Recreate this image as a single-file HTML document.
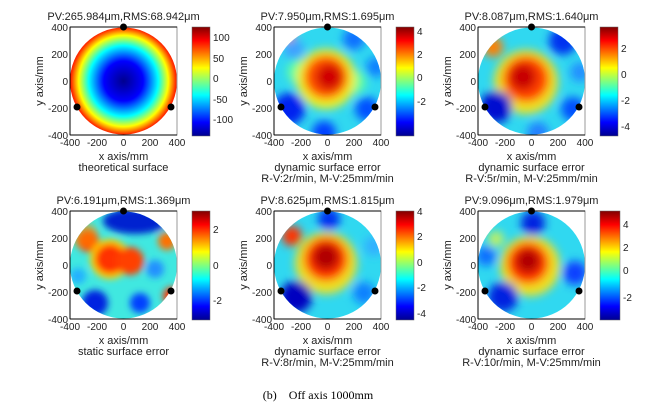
<!DOCTYPE html>
<html><head><meta charset="utf-8"><style>
html,body{margin:0;padding:0;background:#fff;width:670px;height:415px;overflow:hidden}
svg{display:block}
text{font-family:"Liberation Sans",sans-serif;font-size:10px;fill:#222}
.t{font-size:11px}
.c{font-family:"Liberation Serif",serif;font-size:12px;fill:#000}
</style></head><body>
<svg width="670" height="415" viewBox="0 0 670 415">
<defs>
<linearGradient id="jet" x1="0" y1="1" x2="0" y2="0">
<stop offset="0" stop-color="#00008f"/><stop offset="0.125" stop-color="#0000ff"/>
<stop offset="0.375" stop-color="#00ffff"/><stop offset="0.625" stop-color="#ffff00"/>
<stop offset="0.875" stop-color="#ff0000"/><stop offset="1" stop-color="#800000"/>
</linearGradient>
<radialGradient id="bowl" cx="0.5" cy="0.5" r="0.5">
<stop offset="0" stop-color="#00008f"/><stop offset="0.35" stop-color="#0000ff"/>
<stop offset="0.62" stop-color="#00ffff"/><stop offset="0.8" stop-color="#ffff00"/>
<stop offset="0.93" stop-color="#ff3000"/><stop offset="1" stop-color="#ff0000"/>
</radialGradient>
<clipPath id="disk"><circle cx="53.5" cy="54" r="53.5"/></clipPath>
<filter id="bl" x="-50%" y="-50%" width="200%" height="200%"><feGaussianBlur stdDeviation="4.5"/></filter>
<filter id="bl2" x="-50%" y="-50%" width="200%" height="200%"><feGaussianBlur stdDeviation="3.5"/></filter>
<g id="axes">
<rect x="0" y="0" width="107" height="108" fill="none" stroke="#999" stroke-width="1"/>
<line x1="0" y1="0" x2="107" y2="0" stroke="#000"/>
<line x1="0" y1="0" x2="0" y2="108" stroke="#000"/>
<line x1="0" y1="108" x2="107" y2="108" stroke="#000"/>
<text x="-2" y="4" text-anchor="end">400</text>
<text x="-2" y="31" text-anchor="end">200</text>
<text x="-2" y="58" text-anchor="end">0</text>
<text x="-2" y="85" text-anchor="end">-200</text>
<text x="-2" y="112" text-anchor="end">-400</text>
<text x="0" y="119" text-anchor="middle">-400</text>
<text x="27" y="119" text-anchor="middle">-200</text>
<text x="53.5" y="119" text-anchor="middle">0</text>
<text x="80" y="119" text-anchor="middle">200</text>
<text x="107" y="119" text-anchor="middle">400</text>
<text x="53.5" y="133" text-anchor="middle" style="font-size:11px">x axis/mm</text>
<text transform="translate(-27,54) rotate(-90)" text-anchor="middle" style="font-size:11px">y axis/mm</text>
<circle cx="53.5" cy="0" r="3.5" fill="#000"/>
<circle cx="7" cy="80" r="3.5" fill="#000"/>
<circle cx="101" cy="80" r="3.5" fill="#000"/>
</g>
</defs>

<!-- Panel 1 -->
<g transform="translate(70,27)">
<g clip-path="url(#disk)"><ellipse cx="53.5" cy="54" rx="56" ry="57" fill="url(#bowl)"/></g>
<use href="#axes"/>
<text class="t" x="53.5" y="-7" text-anchor="middle">PV:265.984μm,RMS:68.942μm</text>
<text x="53.5" y="144" text-anchor="middle" style="font-size:11px">theoretical surface</text>
<rect x="122" y="0" width="18" height="109" fill="url(#jet)" stroke="#666" stroke-width="0.5"/>
<text x="143" y="14">100</text><text x="143" y="35">50</text><text x="143" y="55">0</text><text x="143" y="76">-50</text><text x="143" y="96">-100</text>
</g>

<!-- Panel 2 -->
<g transform="translate(274,27)">
<g clip-path="url(#disk)">
<rect x="-5" y="-5" width="120" height="120" fill="#30d8f0"/>
<g filter="url(#bl)">
<circle cx="25" cy="45" r="12" fill="#60ffa0"/>
<circle cx="80" cy="55" r="12" fill="#60ffa0"/>
<circle cx="52" cy="52" r="30" fill="#f0f020"/>
<circle cx="52" cy="50" r="22" fill="#ff5000"/>
<circle cx="55" cy="50" r="13" fill="#d00000"/>
<circle cx="15" cy="82" r="16" fill="#0020f0"/>
<circle cx="93" cy="82" r="12" fill="#0050ff"/>
<circle cx="80" cy="12" r="11" fill="#1070ff"/>
<circle cx="20" cy="22" r="10" fill="#40a0ff"/>
<circle cx="50" cy="106" r="12" fill="#0040ff"/>
<circle cx="102" cy="40" r="10" fill="#1080ff"/>
<circle cx="12" cy="5" r="9" fill="#ff7000"/>
</g></g>
<use href="#axes"/>
<text class="t" x="53.5" y="-7" text-anchor="middle">PV:7.950μm,RMS:1.695μm</text>
<text x="53.5" y="144" text-anchor="middle" style="font-size:11px">dynamic surface error</text>
<text x="53.5" y="155" text-anchor="middle" style="font-size:11px">R-V:2r/min, M-V:25mm/min</text>
<rect x="122" y="0" width="18" height="109" fill="url(#jet)" stroke="#666" stroke-width="0.5"/>
<text x="143" y="8">4</text><text x="143" y="31">2</text><text x="143" y="54">0</text><text x="143" y="78">-2</text>
</g>

<!-- Panel 3 -->
<g transform="translate(478,27)">
<g clip-path="url(#disk)">
<rect x="-5" y="-5" width="120" height="120" fill="#30d8f0"/>
<g filter="url(#bl)">
<circle cx="48" cy="55" r="32" fill="#f0e020"/>
<circle cx="48" cy="52" r="23" fill="#ff4000"/>
<circle cx="45" cy="50" r="13" fill="#c80000"/>
<circle cx="18" cy="80" r="16" fill="#0010d0"/>
<circle cx="85" cy="14" r="14" fill="#0030f0"/>
<circle cx="95" cy="82" r="12" fill="#0050ff"/>
<circle cx="15" cy="20" r="10" fill="#ff8000"/>
<circle cx="60" cy="106" r="11" fill="#2080ff"/>
<circle cx="102" cy="45" r="10" fill="#2090ff"/>
</g></g>
<use href="#axes"/>
<text class="t" x="53.5" y="-7" text-anchor="middle">PV:8.087μm,RMS:1.640μm</text>
<text x="53.5" y="144" text-anchor="middle" style="font-size:11px">dynamic surface error</text>
<text x="53.5" y="155" text-anchor="middle" style="font-size:11px">R-V:5r/min, M-V:25mm/min</text>
<rect x="122" y="0" width="18" height="109" fill="url(#jet)" stroke="#666" stroke-width="0.5"/>
<text x="143" y="25">2</text><text x="143" y="51">0</text><text x="143" y="77">-2</text><text x="143" y="103">-4</text>
</g>

<!-- Panel 4 -->
<g transform="translate(70,211)">
<g clip-path="url(#disk)">
<rect x="-5" y="-5" width="120" height="120" fill="#40e8e0"/>
<g filter="url(#bl2)">
<ellipse cx="65" cy="10" rx="32" ry="13" fill="#0020d0"/>
<circle cx="18" cy="30" r="11" fill="#ff3000"/>
<circle cx="15" cy="25" r="13" fill="#ff9000" opacity="0.6"/>
<circle cx="40" cy="48" r="20" fill="#ffd000"/>
<circle cx="40" cy="48" r="15" fill="#ff3000"/>
<circle cx="60" cy="50" r="14" fill="#ff4000"/>
<circle cx="97" cy="30" r="9" fill="#ff7000"/>
<circle cx="25" cy="92" r="13" fill="#0020e0"/>
<circle cx="70" cy="92" r="10" fill="#0040ff"/>
<circle cx="102" cy="85" r="9" fill="#ff3000"/>
<circle cx="85" cy="58" r="9" fill="#2090ff"/>
<circle cx="8" cy="65" r="8" fill="#20b0ff"/>
</g></g>
<use href="#axes"/>
<text class="t" x="53.5" y="-7" text-anchor="middle">PV:6.191μm,RMS:1.369μm</text>
<text x="53.5" y="144" text-anchor="middle" style="font-size:11px">static surface error</text>
<rect x="122" y="0" width="18" height="109" fill="url(#jet)" stroke="#666" stroke-width="0.5"/>
<text x="143" y="22">2</text><text x="143" y="58">0</text><text x="143" y="93">-2</text>
</g>

<!-- Panel 5 -->
<g transform="translate(274,211)">
<g clip-path="url(#disk)">
<rect x="-5" y="-5" width="120" height="120" fill="#30d8f0"/>
<g filter="url(#bl)">
<circle cx="52" cy="52" r="31" fill="#f0e020"/>
<circle cx="52" cy="48" r="22" fill="#ff3000"/>
<circle cx="52" cy="46" r="13" fill="#b00000"/>
<circle cx="22" cy="86" r="16" fill="#0000c0"/>
<circle cx="55" cy="8" r="11" fill="#0030f0"/>
<circle cx="18" cy="25" r="10" fill="#ff3000"/>
<circle cx="90" cy="82" r="11" fill="#1080ff"/>
<circle cx="100" cy="35" r="10" fill="#30b0ff"/>
</g></g>
<use href="#axes"/>
<text class="t" x="53.5" y="-7" text-anchor="middle">PV:8.625μm,RMS:1.815μm</text>
<text x="53.5" y="144" text-anchor="middle" style="font-size:11px">dynamic surface error</text>
<text x="53.5" y="155" text-anchor="middle" style="font-size:11px">R-V:8r/min, M-V:25mm/min</text>
<rect x="122" y="0" width="18" height="109" fill="url(#jet)" stroke="#666" stroke-width="0.5"/>
<text x="143" y="4">4</text><text x="143" y="29">2</text><text x="143" y="55">0</text><text x="143" y="80">-2</text><text x="143" y="106">-4</text>
</g>

<!-- Panel 6 -->
<g transform="translate(478,211)">
<g clip-path="url(#disk)">
<rect x="-5" y="-5" width="120" height="120" fill="#30d8f0"/>
<g filter="url(#bl)">
<circle cx="52" cy="55" r="30" fill="#f0e020"/>
<circle cx="50" cy="52" r="21" fill="#ff3000"/>
<circle cx="50" cy="50" r="12" fill="#b00000"/>
<circle cx="55" cy="12" r="12" fill="#0020e0"/>
<circle cx="25" cy="86" r="15" fill="#0020e0"/>
<circle cx="97" cy="62" r="12" fill="#1040ff"/>
<circle cx="8" cy="45" r="10" fill="#1070ff"/>
<circle cx="18" cy="28" r="8" fill="#c0f060"/>
</g></g>
<use href="#axes"/>
<text class="t" x="53.5" y="-7" text-anchor="middle">PV:9.096μm,RMS:1.979μm</text>
<text x="53.5" y="144" text-anchor="middle" style="font-size:11px">dynamic surface error</text>
<text x="53.5" y="155" text-anchor="middle" style="font-size:11px">R-V:10r/min, M-V:25mm/min</text>
<rect x="122" y="0" width="20" height="109" fill="url(#jet)" stroke="#666" stroke-width="0.5"/>
<text x="145" y="17">4</text><text x="145" y="40">2</text><text x="145" y="63">0</text><text x="145" y="90">-2</text>
</g>

<text class="c" x="318" y="399" text-anchor="middle" style="white-space:pre">(b)    Off axis 1000mm</text>
</svg>
</body></html>
